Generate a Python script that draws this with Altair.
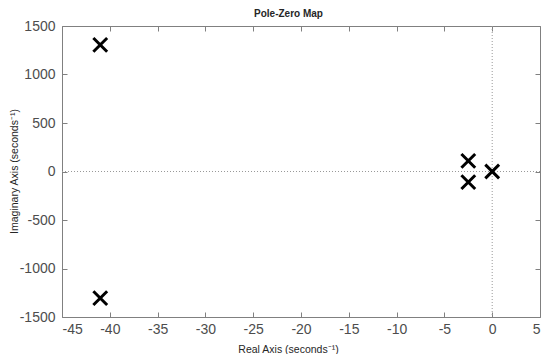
import altair as alt
import pandas as pd

# Pole locations
pole_re = [-41.0, -41.0, -2.5, -2.5, 0.0]
pole_im = [1305, -1305, 110, -110, 0]

x_ticks = list(range(-45, 10, 5))
y_ticks = list(range(-1500, 2000, 500))

df = pd.DataFrame({"re": pole_re, "im": pole_im})

W, H = 478, 291
FONT = "Liberation Sans"
GRAY = "#4d4d4d"
LBL = "datum.value < 0 ? '-' + abs(datum.value) : '' + datum.value"

xs = alt.Scale(domain=[-45, 5], nice=False, zero=False)
ys = alt.Scale(domain=[-1500, 1500], nice=False, zero=False)

xpath = "M-1,-1L1,1M-1,1L1,-1"

main = alt.Chart(df).mark_point(
    shape=xpath, filled=False, stroke="black", strokeWidth=3, size=190, opacity=1
).encode(
    x=alt.X("re:Q", scale=xs, axis=alt.Axis(
        orient="bottom", values=x_ticks, ticks=False, domain=False, grid=False,
        labelExpr=LBL,
        labelFontSize=14, labelColor=GRAY, labelFont=FONT, labelPadding=5,
        title="Real Axis (seconds⁻¹)", titleFont=FONT, titleFontSize=10.5,
        titleFontWeight="normal", titleColor="#262626",
        titleX=226, titleY=32, titleAlign="center", titleBaseline="middle")),
    y=alt.Y("im:Q", scale=ys, axis=alt.Axis(
        orient="left", values=y_ticks, ticks=False, domain=False, grid=False,
        labelExpr=LBL,
        labelFontSize=14, labelColor=GRAY, labelFont=FONT, labelPadding=7,
        title="Imaginary Axis (seconds⁻¹)", titleFont=FONT, titleFontSize=10.5,
        titleFontWeight="normal", titleColor="#262626",
        titleX=-48, titleY=145, titleAngle=-90, titleAlign="center",
        titleBaseline="middle")),
)

tick_style = dict(labels=False, domain=False, grid=False, ticks=True,
                  tickSize=5, tickColor="#808080", title=None)

inner1 = alt.Chart(df).mark_point(opacity=0).encode(
    x=alt.X("re:Q", scale=xs, axis=alt.Axis(orient="top", offset=-H, values=x_ticks, **tick_style)),
    y=alt.Y("im:Q", scale=ys, axis=alt.Axis(orient="right", offset=-W, values=y_ticks, **tick_style)),
)
inner2 = alt.Chart(df).mark_point(opacity=0).encode(
    x=alt.X("re:Q", scale=xs, axis=alt.Axis(orient="bottom", offset=-H, values=x_ticks, **tick_style)),
    y=alt.Y("im:Q", scale=ys, axis=alt.Axis(orient="left", offset=-W, values=y_ticks, **tick_style)),
)

# top axis that carries only the chart title
title_layer = alt.Chart(df).mark_point(opacity=0).encode(
    x=alt.X("re:Q", scale=xs, axis=alt.Axis(
        orient="top", values=x_ticks, labels=False, ticks=False, domain=False, grid=False,
        title="Pole-Zero Map", titleFont=FONT, titleFontSize=10, titleFontWeight="bold",
        titleColor="#262626", titleX=226, titleY=-10, titleAlign="center",
        titleBaseline="alphabetic")),
)

vline = alt.Chart(pd.DataFrame({"v": [0]})).mark_rule(
    color="#999999", strokeDash=[1, 2], strokeWidth=1
).encode(x=alt.X("v:Q", scale=xs, axis=None))
hline = alt.Chart(pd.DataFrame({"v": [0]})).mark_rule(
    color="#999999", strokeDash=[1, 2], strokeWidth=1
).encode(y=alt.Y("v:Q", scale=ys, axis=None))

chart = alt.layer(vline, hline, inner1, inner2, title_layer, main).resolve_axis(
    x="independent", y="independent"
).properties(
    width=W, height=H,
    autosize=alt.AutoSizeParams(type="none"),
    padding={"left": 54, "top": 18, "right": 2, "bottom": 37},
).configure_view(stroke="#808080", strokeWidth=1)

chart.save("out.html", embed_options={"renderer": "svg", "actions": False})
